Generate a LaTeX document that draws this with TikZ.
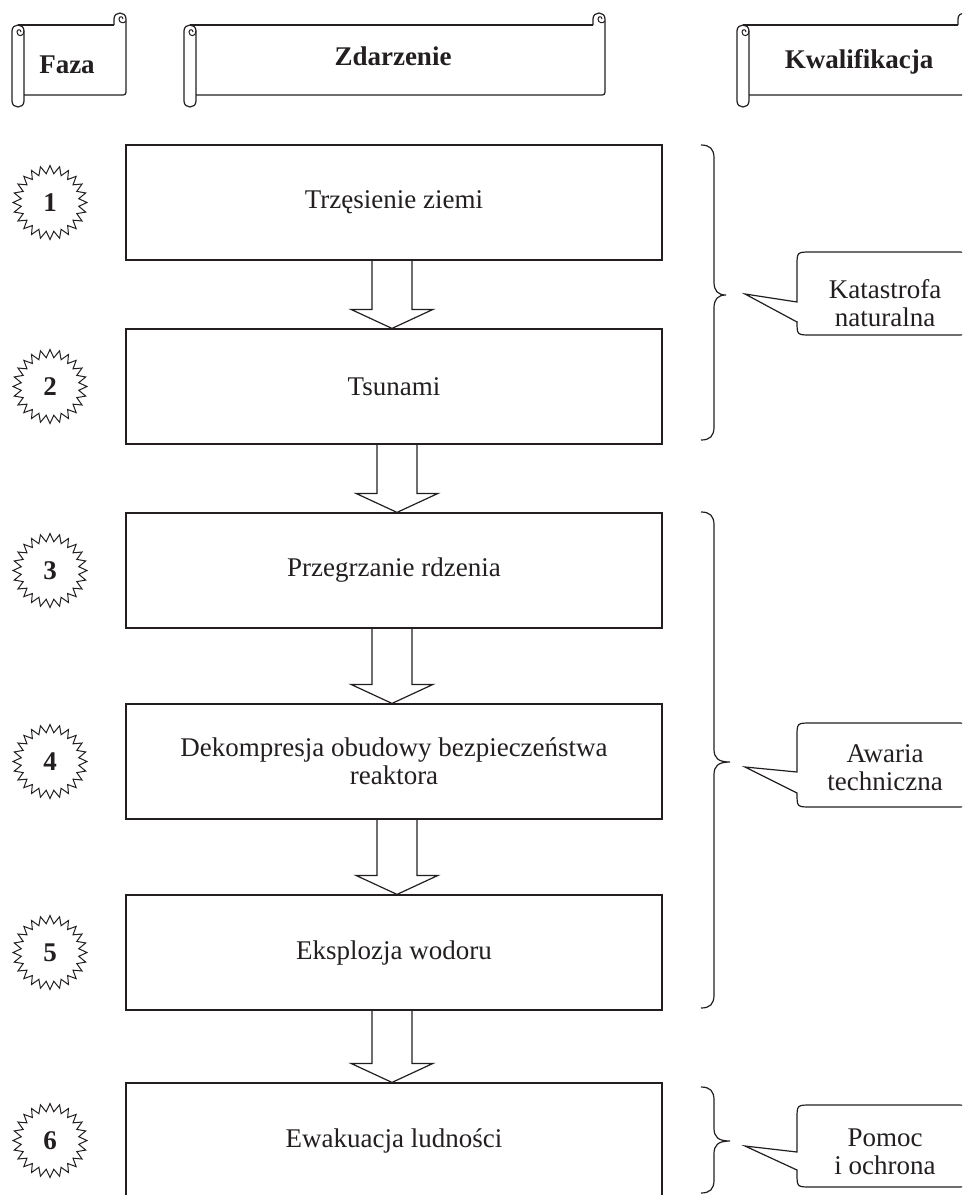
\documentclass[tikz,border=0pt]{standalone}
\usepackage{fontspec}
\setmainfont{Liberation Serif}
\usetikzlibrary{calc}
\definecolor{ink}{RGB}{35,31,32}
\newcommand\scrollhdr[2]{%
  \draw[ln] ({#1+6},25) -- ({#2-12},25);
  \draw[ln] ({#2-12},25) -- ({#2-12},19) .. controls ({#2-12},11) and (#2,11) .. (#2,19) -- (#2,89) .. controls (#2,95) .. ({#2-6},95) -- ({#1+12},95);
  \draw[ln,line width=1pt] (#2,21) .. controls ({#2-2},24) and ({#2-7},23) .. ({#2-7},19) .. controls ({#2-7},16) and ({#2-3},16) .. ({#2-3},19);
  \draw[ln] (#1,31) .. controls (#1,23) and ({#1+12},23) .. ({#1+12},31) -- ({#1+12},101) .. controls ({#1+12},109) and (#1,109) .. (#1,101) -- cycle;
  \draw[ln,line width=1pt] ({#1+12},31) .. controls ({#1+12},37) and ({#1+5},37) .. ({#1+5},32) .. controls ({#1+5},29) and ({#1+9},29) .. ({#1+9},32);
}
\newcommand\burst[3]{%
  \draw[ln,line width=1pt] plot[samples at={0,...,47}, variable=\i] ({50+(mod(\i,2)==0 ? 37 : 29)*cos(\i*7.5)}, {#2+(mod(\i,2)==0 ? 37 : 29)*sin(\i*7.5)}) -- cycle;
  \node[numn] (#1) at (50,#2) {#3};
}
\newcommand\barrow[3]{%
  \draw[ln] ($(#1.south)+({#3-20},0)$) -- ($(#2.north)+({#3-20},-19)$) -- ($(#2.north)+({#3-41},-19)$) -- ($(#2.north)+(#3,0)$) -- ($(#2.north)+({#3+41},-19)$) -- ($(#2.north)+({#3+20},-19)$) -- ($(#1.south)+({#3+20},0)$);
}
\newcommand\bracepath[4]{%
  \draw[ln] (701,#1) .. controls (710,#1) and (714,{#1+4}) .. (714,{#1+13}) -- (714,{#2-13}) .. controls (714,{#2-4}) and (718,#2) .. (#4,#2) .. controls (718,#2) and (714,{#2+4}) .. (714,{#2+13}) -- (714,{#3-13}) .. controls (714,{#3-4}) and (710,#3) .. (701,#3);
}
\newcommand\callout[5]{%
  \draw[ln] (745,#3) -- (797,#4) -- (797,{#1+14}) .. controls (797,#1) .. (811,#1) -- (955,#1) .. controls (969,#1) .. (969,{#1+14}) -- (969,{#2-14}) .. controls (969,#2) .. (955,#2) -- (811,#2) .. controls (797,#2) .. (797,{#2-14}) -- (797,#5) -- cycle;
}
\begin{document}
\begin{tikzpicture}[x=1pt,y=-1pt,
  ln/.style={draw=ink,line width=1.2pt,line join=miter},
  boxn/.style={draw=ink,line width=1.2pt,minimum width=536pt,minimum height=115pt,inner sep=0pt,align=center,text=ink,font=\fontsize{27}{28}\selectfont},
  hdr/.style={anchor=base,inner sep=0pt,text=ink,font=\fontsize{27}{28}\selectfont\bfseries},
  numn/.style={inner sep=0pt,text=ink,font=\fontsize{27}{28}\selectfont\bfseries},
  txt/.style={inner sep=0pt,align=center,text=ink,font=\fontsize{27}{28}\selectfont}]
\useasboundingbox (0,0) rectangle (962,1195);
\clip (0,0) rectangle (962,1195);
\fill[white] (0,0) rectangle (962,1195);
% headers
\scrollhdr{12}{126}
\scrollhdr{184}{605}
\scrollhdr{737}{970}
\node[hdr] (hfaza) at (67,73) {Faza};
\node[hdr] (hzd) at (393,65) {Zdarzenie};
\node[hdr] (hkw) at (859,68) {Kwalifikacja};
% boxes
\node[boxn] (b1) at (394,202.5) {Trzęsienie ziemi};
\node[boxn] (b2) at (394,386.5) {Tsunami};
\node[boxn] (b3) at (394,570.5) {Przegrzanie rdzenia};
\node[boxn] (b4) at (394,761.5) {Dekompresja obudowy bezpieczeństwa\\reaktora};
\node[boxn] (b5) at (394,952.5) {Eksplozja wodoru};
\node[boxn] (b6) at (394,1140.5) {Ewakuacja ludności};
% arrows
\barrow{b1}{b2}{-2}
\barrow{b2}{b3}{3}
\barrow{b3}{b4}{-2}
\barrow{b4}{b5}{3}
\barrow{b5}{b6}{-2}
% phases
\burst{s1}{202.5}{1}
\burst{s2}{386.5}{2}
\burst{s3}{570.5}{3}
\burst{s4}{761.5}{4}
\burst{s5}{952.5}{5}
\burst{s6}{1140.5}{6}
% braces and callouts
\bracepath{145}{295}{440}{726}
\bracepath{512}{762}{1008}{730}
\bracepath{1087}{1141}{1193}{730}
\callout{252}{335}{294}{302}{322}
\callout{723}{807}{767}{772}{793}
\callout{1105}{1187}{1146}{1152}{1170}
\node[txt] (k1) at (885,303) {Katastrofa\\naturalna};
\node[txt] (k2) at (885,768) {Awaria\\techniczna};
\node[txt] (k3) at (885,1152) {Pomoc\\i ochrona};
\end{tikzpicture}
\end{document}
